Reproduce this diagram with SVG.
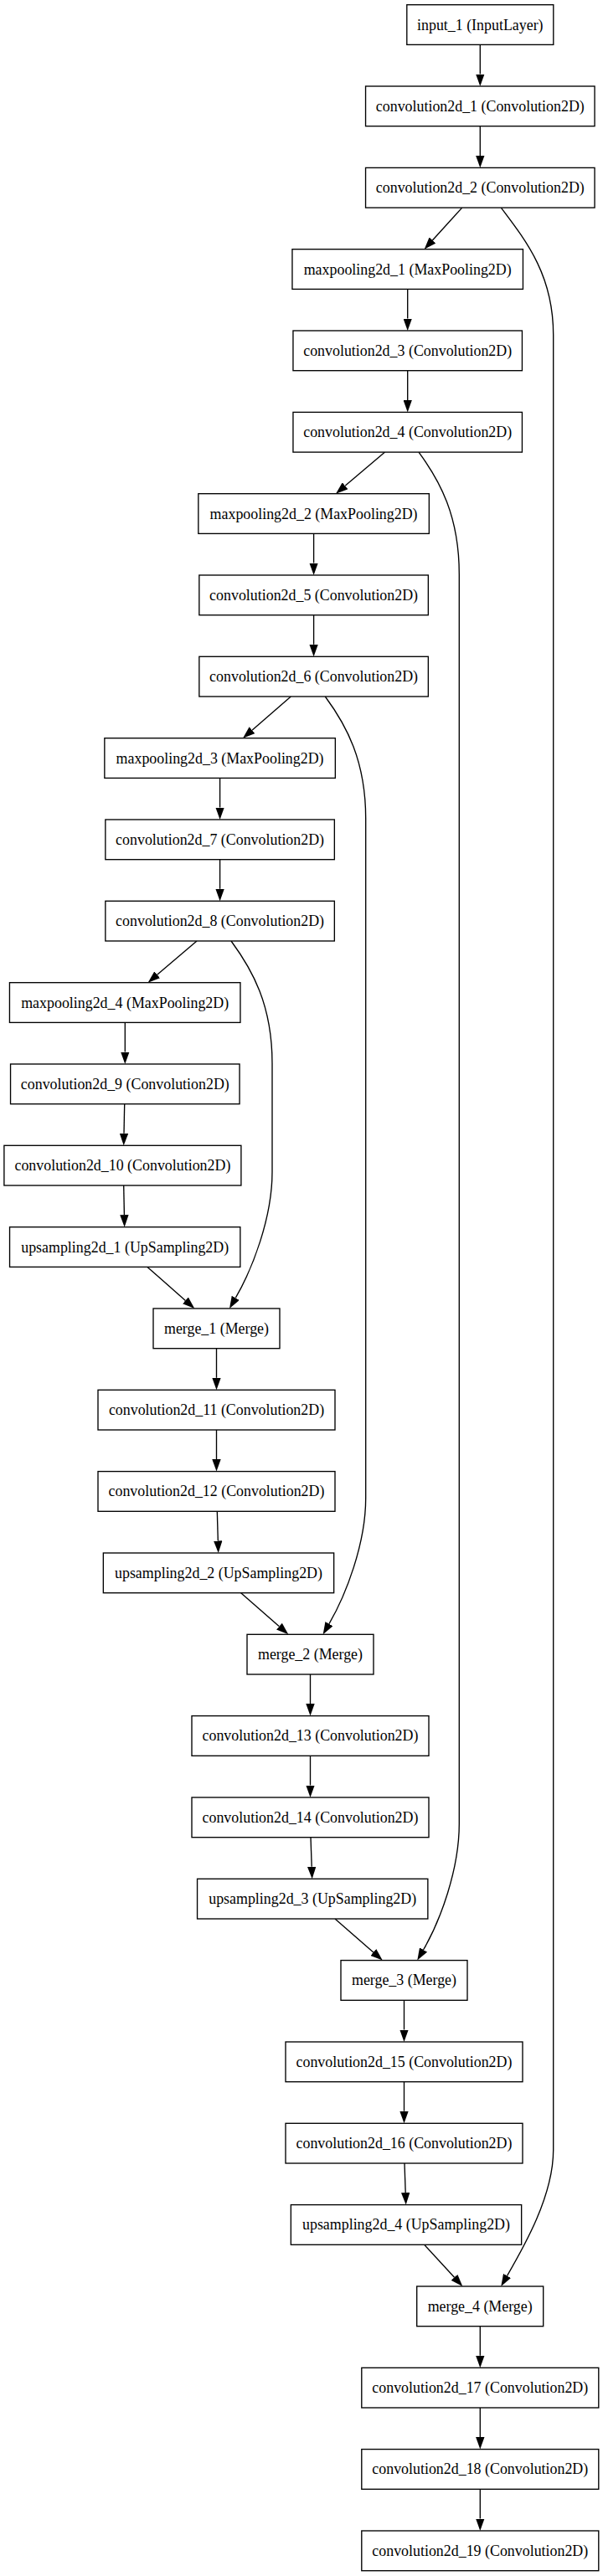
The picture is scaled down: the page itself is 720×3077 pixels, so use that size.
<svg xmlns="http://www.w3.org/2000/svg" width="720" height="3077" viewBox="0 0 720 3077">
<style>
.n rect{fill:#fff;stroke:#000;stroke-width:1.35}
.n text{font-family:"Liberation Serif","Times New Roman",serif;font-size:17.9px;text-anchor:middle;fill:#000}
.e path{fill:none;stroke:#000;stroke-width:1.35;marker-end:url(#ah)}
</style>
<defs>
<marker id="ah" markerUnits="userSpaceOnUse" viewBox="0 -5.2 14.5 10.4" markerWidth="14.5" markerHeight="10.4" refX="0" refY="0" orient="auto">
<path d="M0,-5.2 L14.5,0 L0,5.2 Z" fill="#000"/>
</marker>
</defs>
<rect x="0" y="0" width="720" height="3077" fill="#fff"/>
<g id="connectors" class="e">
<path d="M573.3,53.4 V88.5"/>
<path d="M573.3,150.7 V185.9"/>
<path d="M551.7,248.1 L516.4,287"/>
<path d="M598.3,248.1 C630,290 660.7,330 660.7,400 V2568 C660.7,2623 625.55,2683.8 605.55,2718.4"/>
<path d="M486.7,345.4 V380.5"/>
<path d="M486.7,442.7 V477.9"/>
<path d="M459.6,540.1 L412.1,580.3"/>
<path d="M500,540.1 C525,574 548.3,616 548.3,686 V2178.6 C548.3,2233.6 525.55,2294.4 505.55,2329"/>
<path d="M374.6,637.4 V672.5"/>
<path d="M374.6,734.7 V769.8"/>
<path d="M347.3,832 L301,872.2"/>
<path d="M388.3,832 C413.3,866 436.7,908 436.7,978 V1789.3 C436.7,1844.3 412.95,1905.1 392.95,1939.7"/>
<path d="M262.6,929.4 V964.5"/>
<path d="M262.6,1026.7 V1061.8"/>
<path d="M235,1124 L187.7,1164.3"/>
<path d="M276,1124 C301,1158 325,1200 325,1270 V1400 C325,1455 301.25,1515.8 281.25,1550.4"/>
<path d="M149.3,1221.4 V1256.5"/>
<path d="M148.7,1318.7 L148,1353.8"/>
<path d="M147.7,1416 L148.4,1451.2"/>
<path d="M176,1513.4 L221.4,1553.4"/>
<path d="M258.5,1610.7 V1645.8"/>
<path d="M258.5,1708 V1743.1"/>
<path d="M259.3,1805.3 L260.3,1840.5"/>
<path d="M287.7,1902.7 L333.4,1942.7"/>
<path d="M370.5,2000 V2035.1"/>
<path d="M370.5,2097.3 V2132.5"/>
<path d="M371,2194.7 L372.2,2229.8"/>
<path d="M400,2292 L445.8,2332"/>
<path d="M482.5,2389.3 V2424.5"/>
<path d="M482.5,2486.7 V2521.8"/>
<path d="M483,2584 L484.2,2619.1"/>
<path d="M506.7,2681.3 L542.5,2720.3"/>
<path d="M573.3,2778.7 V2813.8"/>
<path d="M573.3,2876 V2911.1"/>
<path d="M573.3,2973.3 V3008.5"/>
</g>
<g id="input_1" class="n"><rect x="485.8" y="5.7" width="175" height="47.7"/><text x="573.3" y="35.5">input_1 (InputLayer)</text></g>
<g id="convolution2d_1" class="n"><rect x="436.55" y="103" width="273.5" height="47.7"/><text x="573.3" y="132.8">convolution2d_1 (Convolution2D)</text></g>
<g id="convolution2d_2" class="n"><rect x="436.55" y="200.4" width="273.5" height="47.7"/><text x="573.3" y="230.2">convolution2d_2 (Convolution2D)</text></g>
<g id="maxpooling2d_1" class="n"><rect x="348.95" y="297.7" width="275.5" height="47.7"/><text x="486.7" y="327.5">maxpooling2d_1 (MaxPooling2D)</text></g>
<g id="convolution2d_3" class="n"><rect x="349.95" y="395" width="273.5" height="47.7"/><text x="486.7" y="424.8">convolution2d_3 (Convolution2D)</text></g>
<g id="convolution2d_4" class="n"><rect x="349.95" y="492.4" width="273.5" height="47.7"/><text x="486.7" y="522.2">convolution2d_4 (Convolution2D)</text></g>
<g id="maxpooling2d_2" class="n"><rect x="236.85" y="589.7" width="275.5" height="47.7"/><text x="374.6" y="619.5">maxpooling2d_2 (MaxPooling2D)</text></g>
<g id="convolution2d_5" class="n"><rect x="237.85" y="687" width="273.5" height="47.7"/><text x="374.6" y="716.8">convolution2d_5 (Convolution2D)</text></g>
<g id="convolution2d_6" class="n"><rect x="237.85" y="784.3" width="273.5" height="47.7"/><text x="374.6" y="814.1">convolution2d_6 (Convolution2D)</text></g>
<g id="maxpooling2d_3" class="n"><rect x="124.85" y="881.7" width="275.5" height="47.7"/><text x="262.6" y="911.5">maxpooling2d_3 (MaxPooling2D)</text></g>
<g id="convolution2d_7" class="n"><rect x="125.85" y="979" width="273.5" height="47.7"/><text x="262.6" y="1008.8">convolution2d_7 (Convolution2D)</text></g>
<g id="convolution2d_8" class="n"><rect x="125.85" y="1076.3" width="273.5" height="47.7"/><text x="262.6" y="1106.1">convolution2d_8 (Convolution2D)</text></g>
<g id="maxpooling2d_4" class="n"><rect x="11.45" y="1173.7" width="275.5" height="47.7"/><text x="149.2" y="1203.5">maxpooling2d_4 (MaxPooling2D)</text></g>
<g id="convolution2d_9" class="n"><rect x="12.55" y="1271" width="273.5" height="47.7"/><text x="149.3" y="1300.8">convolution2d_9 (Convolution2D)</text></g>
<g id="convolution2d_10" class="n"><rect x="4.9" y="1368.3" width="283" height="47.7"/><text x="146.4" y="1398.1">convolution2d_10 (Convolution2D)</text></g>
<g id="upsampling2d_1" class="n"><rect x="11.55" y="1465.7" width="275.3" height="47.7"/><text x="149.2" y="1495.5">upsampling2d_1 (UpSampling2D)</text></g>
<g id="merge_1" class="n"><rect x="183" y="1563" width="151" height="47.7"/><text x="258.5" y="1592.8">merge_1 (Merge)</text></g>
<g id="convolution2d_11" class="n"><rect x="117" y="1660.3" width="283" height="47.7"/><text x="258.5" y="1690.1">convolution2d_11 (Convolution2D)</text></g>
<g id="convolution2d_12" class="n"><rect x="117" y="1757.6" width="283" height="47.7"/><text x="258.5" y="1787.4">convolution2d_12 (Convolution2D)</text></g>
<g id="upsampling2d_2" class="n"><rect x="123.35" y="1855" width="275.3" height="47.7"/><text x="261" y="1884.8">upsampling2d_2 (UpSampling2D)</text></g>
<g id="merge_2" class="n"><rect x="295" y="1952.3" width="151" height="47.7"/><text x="370.5" y="1982.1">merge_2 (Merge)</text></g>
<g id="convolution2d_13" class="n"><rect x="229" y="2049.6" width="283" height="47.7"/><text x="370.5" y="2079.4">convolution2d_13 (Convolution2D)</text></g>
<g id="convolution2d_14" class="n"><rect x="229" y="2147" width="283" height="47.7"/><text x="370.5" y="2176.8">convolution2d_14 (Convolution2D)</text></g>
<g id="upsampling2d_3" class="n"><rect x="235.55" y="2244.3" width="275.3" height="47.7"/><text x="373.2" y="2274.1">upsampling2d_3 (UpSampling2D)</text></g>
<g id="merge_3" class="n"><rect x="407" y="2341.6" width="151" height="47.7"/><text x="482.5" y="2371.4">merge_3 (Merge)</text></g>
<g id="convolution2d_15" class="n"><rect x="341" y="2439" width="283" height="47.7"/><text x="482.5" y="2468.8">convolution2d_15 (Convolution2D)</text></g>
<g id="convolution2d_16" class="n"><rect x="341" y="2536.3" width="283" height="47.7"/><text x="482.5" y="2566.1">convolution2d_16 (Convolution2D)</text></g>
<g id="upsampling2d_4" class="n"><rect x="347.35" y="2633.6" width="275.3" height="47.7"/><text x="485" y="2663.4">upsampling2d_4 (UpSampling2D)</text></g>
<g id="merge_4" class="n"><rect x="497.7" y="2731" width="151" height="47.7"/><text x="573.2" y="2760.8">merge_4 (Merge)</text></g>
<g id="convolution2d_17" class="n"><rect x="431.8" y="2828.3" width="283" height="47.7"/><text x="573.3" y="2858.1">convolution2d_17 (Convolution2D)</text></g>
<g id="convolution2d_18" class="n"><rect x="431.8" y="2925.6" width="283" height="47.7"/><text x="573.3" y="2955.4">convolution2d_18 (Convolution2D)</text></g>
<g id="convolution2d_19" class="n"><rect x="431.8" y="3023" width="283" height="47.7"/><text x="573.3" y="3052.8">convolution2d_19 (Convolution2D)</text></g>
</svg>
